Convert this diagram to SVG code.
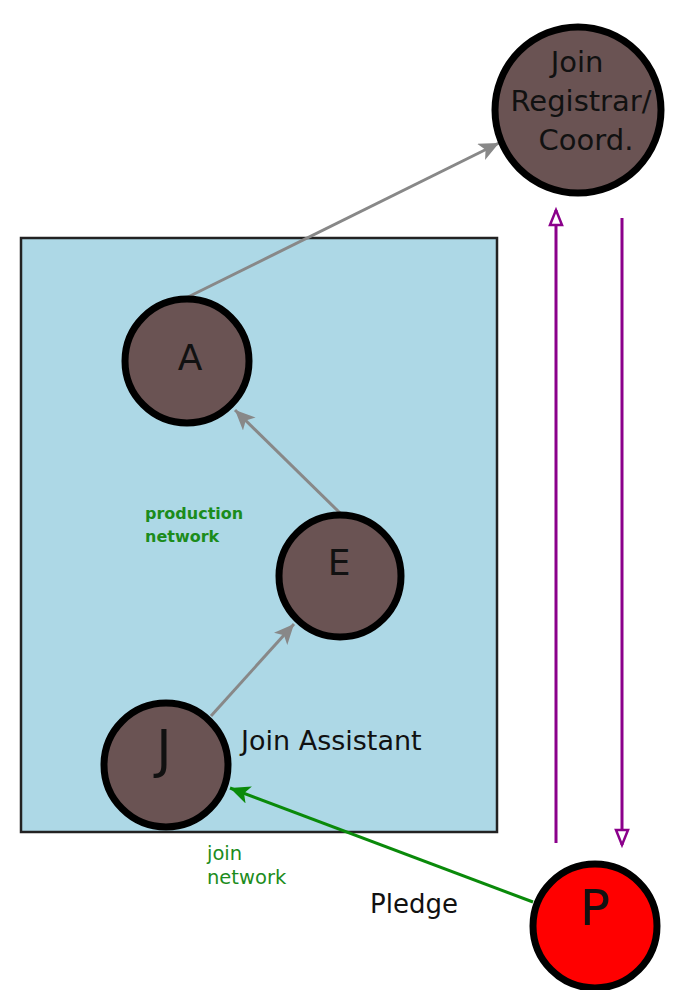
<svg xmlns="http://www.w3.org/2000/svg" width="685" height="990" viewBox="0 0 685 990">
  <style>
    .node { fill: #6a5353; stroke: #000; stroke-width: 7; }
    .pledge { fill: #ff0000; stroke: #000; stroke-width: 7; }
    .lbl { font-family: "DejaVu Sans", sans-serif; fill: #111; text-anchor: middle; }
    .txt { font-family: "DejaVu Sans", sans-serif; fill: #111; }
    .green { font-family: "DejaVu Sans", sans-serif; fill: #1c8c1c; }
    .gray { stroke: #888; stroke-width: 3; fill: none; }
    .purple { stroke: #8b008b; stroke-width: 3; fill: none; }
    .greenline { stroke: #0a8a0a; stroke-width: 3; fill: none; }
  </style>
  <defs>
    <marker id="arrGray" markerUnits="userSpaceOnUse" markerWidth="24" markerHeight="20" refX="20" refY="9" orient="auto">
      <path d="M0,0 L20,9 L0,18 L5,9 Z" fill="#888"/>
    </marker>
    <marker id="arrGreen" markerUnits="userSpaceOnUse" markerWidth="24" markerHeight="20" refX="20" refY="9" orient="auto">
      <path d="M0,0 L20,9 L0,18 L5,9 Z" fill="#0a8a0a"/>
    </marker>
    <marker id="arrOpen" markerUnits="userSpaceOnUse" markerWidth="22" markerHeight="20" refX="17" refY="8" orient="auto">
      <path d="M2,2 L17,8 L2,14 Z" fill="#fff" stroke="#8b008b" stroke-width="2.5" stroke-linejoin="miter"/>
    </marker>
  </defs>

  <!-- production network area -->
  <rect id="area" x="21" y="238" width="476" height="594" fill="#add8e6" stroke="#222" stroke-width="2.5"/>

  <text class="green" x="145" y="519" font-size="16" font-weight="bold">production</text>
  <text class="green" x="145" y="542" font-size="16" font-weight="bold">network</text>
  <text class="green" x="207" y="860" font-size="19.5">join</text>
  <text class="green" x="207" y="884" font-size="19.5">network</text>
  <text class="txt" x="241" y="750" font-size="27">Join Assistant</text>
  <text class="txt" x="370" y="913" font-size="26">Pledge</text>

  <!-- connectors -->
  <g id="connectors">
    <line class="gray" x1="188" y1="297" x2="499" y2="143" marker-end="url(#arrGray)"/>
    <line class="gray" x1="340" y1="513" x2="235" y2="410" marker-end="url(#arrGray)"/>
    <line class="gray" x1="211" y1="716" x2="294" y2="624" marker-end="url(#arrGray)"/>
    <line class="greenline" x1="533" y1="902" x2="230" y2="788" marker-end="url(#arrGreen)"/>
    <line class="purple" x1="556" y1="843" x2="556" y2="210" marker-end="url(#arrOpen)"/>
    <line class="purple" x1="622" y1="218" x2="622" y2="845" marker-end="url(#arrOpen)"/>
  </g>

  <g id="registrar">
    <circle class="node" cx="578" cy="110" r="83"/>
    <text class="lbl" x="577" y="72" font-size="29">Join</text>
    <text class="lbl" x="581" y="111" font-size="29">Registrar/</text>
    <text class="lbl" x="586" y="150" font-size="29">Coord.</text>
  </g>
  <g id="nodeA">
    <circle class="node" cx="187" cy="361" r="62"/>
    <text class="lbl" x="190" y="370" font-size="36">A</text>
  </g>
  <g id="nodeE">
    <circle class="node" cx="340" cy="576" r="61"/>
    <text class="lbl" x="339" y="575" font-size="36">E</text>
  </g>
  <g id="nodeJ">
    <circle class="node" cx="166" cy="765" r="62"/>
    <text class="lbl" x="164" y="767" font-size="52">J</text>
  </g>
  <g id="nodeP">
    <circle class="pledge" cx="595" cy="926" r="62"/>
    <text class="lbl" x="595" y="925" font-size="50">P</text>
  </g>
</svg>
